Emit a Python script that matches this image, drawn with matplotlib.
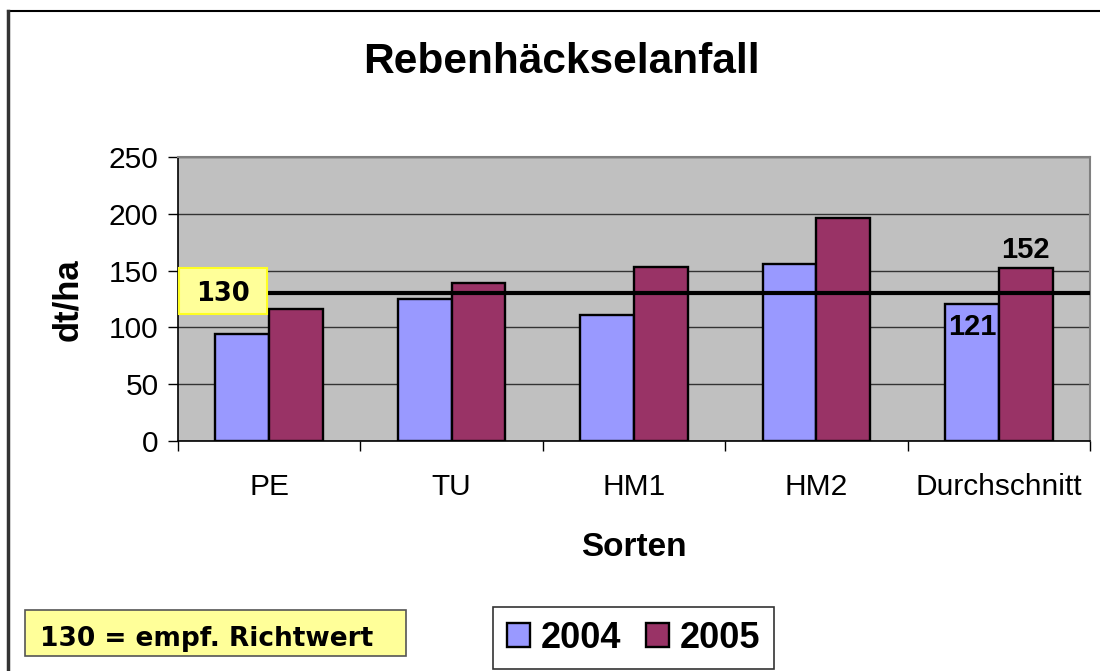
import matplotlib
matplotlib.use("Agg")
import matplotlib.pyplot as plt
from matplotlib.lines import Line2D
from matplotlib.patches import Rectangle
import numpy as np

plt.rcParams['font.family'] = ['Liberation Sans', 'DejaVu Sans']

categories = ["PE", "TU", "HM1", "HM2", "Durchschnitt"]
values_2004 = [94, 125, 111, 156, 121]
values_2005 = [116, 139, 153, 196, 152]
series_labels = ["2004", "2005"]
richtwert = 130
yticks = [0, 50, 100, 150, 200, 250]

c2004 = "#9999FF"
c2005 = "#993366"

W, H = 1100, 671
fig = plt.figure(figsize=(W/100, H/100), dpi=100)
ax = fig.add_axes([178/W, 1-441/H, (1090-178)/W, (441-157)/H])
ax.set_facecolor("#C0C0C0")

x = np.arange(len(categories))
w = 0.295
b1 = ax.bar(x - w/2, values_2004, w, color=c2004, edgecolor="black", linewidth=1.7, zorder=3, label=series_labels[0])
b2 = ax.bar(x + w/2, values_2005, w, color=c2005, edgecolor="black", linewidth=1.7, zorder=3, label=series_labels[1])

ax.axhline(richtwert, color="black", linewidth=3, zorder=4)

ax.set_xlim(-0.5, len(categories) - 0.5)
ax.set_ylim(0, 250)
ax.set_yticks(yticks)
ax.set_yticklabels([str(v) for v in yticks], fontsize=21.5)
ax.yaxis.grid(True, color="#333333", linewidth=1.0, zorder=0)
ax.set_axisbelow(True)
ax.tick_params(axis='y', length=7, width=1, pad=7, color="black")

ax.set_xticks(x)
ax.set_xticklabels(categories, fontsize=21.5)
ax.tick_params(axis='x', length=0, pad=23)
ax.set_xticks(np.arange(len(categories) + 1) - 0.5, minor=True)
ax.tick_params(axis='x', which='minor', length=7, width=1, color="black")

for s in ["top", "right"]:
    ax.spines[s].set_color("#808080")
    ax.spines[s].set_linewidth(1.5)
for s in ["left", "bottom"]:
    ax.spines[s].set_color("black")
    ax.spines[s].set_linewidth(1.2)

# value labels for Durchschnitt
i = len(categories) - 1
ax.text(x[i] - w/2, values_2004[i] - 8, str(values_2004[i]), ha="center", va="top",
        fontsize=21, fontweight="bold", zorder=5)
ax.text(x[i] + w/2, values_2005[i] + 4, str(values_2005[i]), ha="center", va="bottom",
        fontsize=21, fontweight="bold", zorder=5)

# yellow 130 label box (on top of the axes)
fig.add_artist(Rectangle((179/W, 1-314/H), (267-179)/W, (314-268)/H, transform=fig.transFigure,
                         facecolor="#FFFF99", edgecolor="#FFFF22", linewidth=1.5, zorder=5))
fig.text(223/W, 1-291/H, str(richtwert), ha="center", va="center_baseline",
         fontsize=18.5, fontweight="bold", family="DejaVu Sans", zorder=6)

fig.text(561/W, 1-62/H, "Rebenhäckselanfall", ha="center", va="center",
         fontsize=30.5, fontweight="bold")
fig.text(634/W, 1-547/H, "Sorten", ha="center", va="center", fontsize=24, fontweight="bold")
fig.text(68/W, 1-300/H, "dt/ha", ha="center", va="center", fontsize=25, fontweight="bold", rotation=90)

# outer border lines
fig.add_artist(Line2D([8/W, 1.0], [1-11/H, 1-11/H], color="black", linewidth=1.5))
fig.add_artist(Line2D([8/W, 8/W], [0, 1-11/H], color="#333333", linewidth=2.5))

# note box
fig.add_artist(Rectangle((25/W, 1-656/H), (406-25)/W, (656-610)/H, transform=fig.transFigure,
                         facecolor="#FFFF99", edgecolor="#555555", linewidth=1.2))
fig.text(40/W, 1-635.5/H, "130 = empf. Richtwert", ha="left", va="center_baseline",
         fontsize=19, fontweight="bold", family="DejaVu Sans")

# legend
leg = fig.legend(handles=[b1, b2], labels=series_labels, loc="center", bbox_to_anchor=(633.5/W, 1-638/H),
                 ncol=2, prop=dict(weight="bold", size=26), frameon=True, fancybox=False,
                 edgecolor="black", handlelength=0.64, handleheight=0.64, handletextpad=0.3, columnspacing=0.67,
                 borderpad=0.38, borderaxespad=0)
leg.get_frame().set_linewidth(1.2)

fig.savefig("out.png", dpi=100, facecolor="white")
